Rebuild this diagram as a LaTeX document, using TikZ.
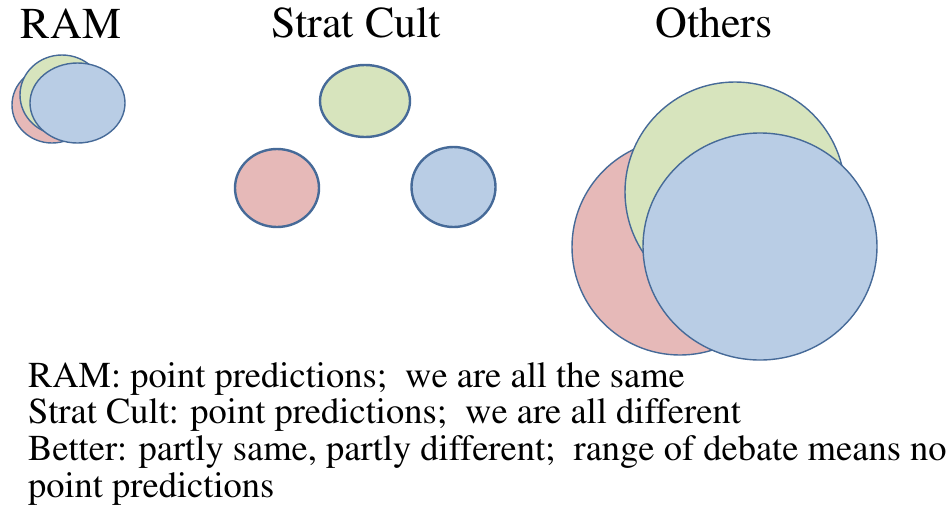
\documentclass[tikz,border=0pt]{standalone}
\usepackage[T1]{fontenc}
\usepackage{mathptmx}
\usetikzlibrary{shapes.geometric, positioning}
\definecolor{blobred}{HTML}{E6B9B8}
\definecolor{blobgreen}{HTML}{D7E4BD}
\definecolor{blobblue}{HTML}{B9CDE5}
\definecolor{bloboutline}{HTML}{466A98}

\begin{document}
\begin{tikzpicture}[x=1pt, y=-1pt]
\tikzset{
every node/.style={inner sep=0pt, outer sep=0pt}, % sizes below are the outer sizes
blob/.style={ellipse, draw=bloboutline, line width=1.4pt}, % the coloured ovals
thick blob/.style={blob, line width=2.4pt}, % the separate ovals in the middle
heading/.style={font=\fontsize{44}{48}\selectfont, anchor=base}, % titles on top
caption/.style={font=\fontsize{36.5}{38}\selectfont, anchor=base west}, % text lines below
}
\useasboundingbox (0,0) rectangle (950,512);

	% RAM: nearly on top of each other
	\node[heading] (ramtitle) at (71,38) {RAM};
	\node[blob, fill=blobred, minimum width=80pt, minimum height=76pt] (ramr) at (52,105) {};
	\node[blob, fill=blobgreen, minimum width=84pt, minimum height=80pt] (ramg) at (62,95) {};
	\node[blob, fill=blobblue, minimum width=95pt, minimum height=80pt] (ramb) at (77.5,103) {};

	% Strat Cult: apart
	\node[heading] (strattitle) at (356,37) {Strat Cult};
	\node[thick blob, fill=blobgreen, minimum width=90pt, minimum height=72pt] (stratg) at (365,101) {};
	\node[thick blob, fill=blobred, minimum width=84pt, minimum height=78pt] (stratr) at (277,188) {};
	\node[thick blob, fill=blobblue, minimum width=84pt, minimum height=80pt] (stratb) at (453.5,187) {};

	% Others: big and partly overlapping
	\node[heading] (otherstitle) at (714,37) {Others};
	\node[blob, fill=blobred, minimum width=216pt, minimum height=216pt] (othr) at (680,247) {};
	\node[blob, fill=blobgreen, minimum width=220pt, minimum height=220pt] (othg) at (735,192) {};
	\node[blob, fill=blobblue, minimum width=234pt, minimum height=227pt] (othb) at (760,246.5) {};

	\node[caption] (line1) at (28,387) {RAM: point predictions;\ \ we are all the same};
	\node[caption] (line2) at (28,423) {Strat Cult: point predictions;\ \ we are all different};
	\node[caption] (line3) at (28,460) {Better: partly same, partly different;\ \ range of debate means no};
	\node[caption] (line4) at (28,497) {point predictions};
\end{tikzpicture}
\end{document}
